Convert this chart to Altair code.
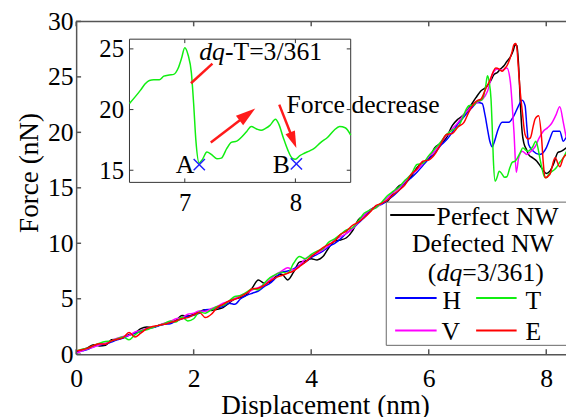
import altair as alt
import pandas as pd

FONT = "Liberation Serif"

# ---------------- data ----------------
X_LOW = [0.0, 0.1, 0.2, 0.3, 0.4, 0.5, 0.6, 0.7, 0.8, 0.9,
         1.0, 1.1, 1.2, 1.3, 1.4, 1.5, 1.6, 1.7, 1.8, 1.9,
         2.0, 2.1, 2.2, 2.3, 2.4, 2.5, 2.6, 2.7, 2.8, 2.9,
         3.0, 3.1, 3.2, 3.3, 3.4, 3.5, 3.6, 3.7, 3.8, 3.9,
         4.0, 4.1, 4.2, 4.3, 4.4, 4.5, 4.6, 4.7, 4.8, 4.9,
         5.0, 5.1, 5.2, 5.3, 5.4, 5.5, 5.6, 5.7, 5.8, 5.9,
         6.0, 6.1, 6.2, 6.3, 6.4, 6.5, 6.6]

PERFECT_LOW = [0.2, 0.35, 0.6, 0.85, 0.75, 0.8, 1.3, 1.35, 1.5, 1.75,
               1.9, 2.3, 2.45, 2.4, 2.6, 2.75, 2.9, 3.05, 3.5, 3.45,
               3.6, 3.85, 4.0, 3.95, 4.05, 4.2, 4.6, 5.0, 5.1, 5.35,
               6.0, 6.7, 6.4, 6.5, 7.0, 7.2, 6.7, 7.4, 8.3, 8.4,
               8.6, 8.5, 8.8, 9.6, 10.2, 10.3, 10.5, 11.1, 12.1, 12.5,
               13.0, 13.3, 13.6, 13.8, 14.6, 15.2, 15.4, 16.0, 16.8, 17.3,
               17.6, 18.6, 19.0, 19.5, 20.6, 21.2, 21.6]
PERFECT_TAIL_X = [6.7, 6.8, 6.89, 6.97, 7.05, 7.11, 7.17, 7.22, 7.28, 7.33,
                  7.39, 7.44, 7.47, 7.5, 7.53, 7.56, 7.59, 7.62, 7.66, 7.70,
                  7.77, 7.84, 7.92, 8.0, 8.06, 8.12, 8.2, 8.26, 8.34]
PERFECT_TAIL_Y = [22.3, 23.1, 23.75, 24.05, 24.6, 25.2, 25.4, 25.7, 26.0, 26.4,
                  26.8, 27.4, 27.9, 27.8, 26.0, 22.5, 20.0, 19.0, 18.5, 18.0,
                  17.7, 17.4, 16.8, 16.3, 16.5, 17.1, 18.2, 18.3, 18.6]

H_LOW = [0.1, 0.3, 0.45, 0.7, 0.85, 0.9, 1.1, 1.3, 1.45, 1.7,
         1.9, 2.05, 2.3, 2.4, 2.55, 2.7, 2.75, 3.0, 3.2, 3.4,
         3.5, 3.7, 4.0, 4.05, 4.2, 4.3, 4.6, 4.5, 5.0, 5.3,
         5.5, 5.7, 6.1, 6.4, 6.9, 7.4, 7.5, 7.7, 8.0, 8.3,
         8.7, 9.0, 9.3, 9.7, 10.0, 10.4, 10.9, 11.3, 11.8, 12.3,
         12.9, 13.3, 13.5, 13.9, 14.3, 14.8, 15.5, 15.9, 16.4, 17.0,
         17.6, 18.1, 18.8, 19.3, 20.0, 20.8, 21.4]
H_TAIL_X = [6.66, 6.75, 6.83, 6.91, 6.96, 7.0, 7.04, 7.08, 7.12, 7.17,
            7.25, 7.36, 7.45, 7.52, 7.59, 7.64, 7.67, 7.70, 7.78, 7.89,
            8.0, 8.06, 8.12, 8.23, 8.29, 8.34]
H_TAIL_Y = [21.8, 22.3, 22.7, 22.6, 21.5, 20.3, 19.2, 18.7, 19.2, 20.1,
            20.9, 20.9, 21.5, 22.3, 22.9, 22.4, 20.5, 18.9, 18.3, 18.0,
            18.6, 19.4, 20.1, 20.1, 19.2, 19.6]

T_LOW = [0.3, 0.45, 0.55, 0.8, 1.0, 1.15, 1.2, 1.4, 1.55, 1.3,
         1.75, 2.1, 2.2, 2.4, 2.6, 2.75, 3.0, 2.9, 3.35, 3.0,
         3.2, 3.8, 3.7, 4.0, 4.3, 4.4, 4.8, 5.2, 5.3, 5.6,
         5.9, 5.8, 6.4, 6.9, 7.2, 7.4, 7.3, 8.2, 8.8, 8.6,
         9.0, 9.3, 9.5, 10.1, 10.4, 10.8, 11.2, 11.4, 12.0, 12.7,
         13.0, 13.2, 13.7, 14.3, 14.7, 15.1, 15.7, 16.2, 17.1, 17.2,
         17.9, 18.5, 19.1, 19.8, 20.2, 20.5, 21.6]
T_TAIL_X = [6.64, 6.68, 6.72, 6.77, 6.81, 6.86, 6.9, 6.94, 6.97, 7.0,
            7.03, 7.06, 7.08, 7.1, 7.13, 7.16, 7.2, 7.24, 7.29, 7.33,
            7.38, 7.42, 7.47, 7.51, 7.56, 7.6, 7.65, 7.69, 7.73, 7.77,
            7.82, 7.85, 7.89, 7.93, 7.97, 8.0, 8.04, 8.08, 8.13, 8.17,
            8.23, 8.29, 8.35, 8.4, 8.45, 8.5]
T_TAIL_Y = [22.1, 22.4, 22.45, 22.45, 22.75, 22.85, 22.9, 23.4, 24.2, 25.1,
            24.5, 23.0, 20.5, 17.5, 15.6, 15.9, 16.5, 16.3, 15.95, 16.0,
            16.8, 17.3, 17.4, 17.7, 18.2, 18.6, 18.4, 18.3, 18.45, 18.7,
            19.2, 18.8, 17.7, 16.7, 16.0, 15.9, 16.2, 16.4, 16.6, 16.8,
            17.3, 17.7, 18.3, 18.6, 18.5, 17.9]

V_LOW = [0.1, 0.3, 0.5, 0.65, 0.85, 1.0, 1.2, 1.45, 1.6, 1.7,
         2.0, 2.15, 2.3, 2.45, 2.6, 2.8, 2.95, 3.2, 3.3, 3.6,
         3.7, 3.9, 3.85, 4.1, 4.3, 4.6, 4.75, 5.0, 5.3, 5.5,
         5.8, 6.0, 6.3, 6.7, 7.2, 7.5, 7.8, 7.6, 8.0, 8.6,
         8.9, 9.1, 9.4, 9.8, 10.3, 10.6, 10.9, 11.3, 11.9, 12.5,
         13.0, 13.2, 13.6, 14.1, 14.6, 15.0, 15.6, 16.2, 16.6, 17.2,
         17.8, 18.3, 19.0, 19.7, 20.3, 20.9, 21.6]
V_TAIL_X = [6.7, 6.83, 6.92, 7.0, 7.08, 7.17, 7.25, 7.33, 7.39, 7.42,
            7.45, 7.49, 7.53, 7.59, 7.67, 7.74, 7.81, 7.88, 7.95, 8.02,
            8.09, 8.16, 8.23, 8.29, 8.34]
V_TAIL_Y = [22.2, 22.7, 23.0, 23.7, 25.2, 25.7, 25.6, 25.8, 24.5, 22.5,
            20.1, 16.4, 17.7, 18.3, 18.0, 18.3, 18.7, 19.5, 20.1, 20.4,
            20.8, 21.5, 22.3, 20.9, 19.5]

E_LOW = [0.3, 0.4, 0.55, 0.8, 0.95, 0.9, 1.2, 1.35, 1.5, 1.95,
         1.55, 1.9, 2.3, 2.5, 2.6, 2.7, 2.85, 3.0, 3.2, 3.3,
         3.55, 3.75, 3.3, 3.6, 4.2, 4.5, 4.8, 4.95, 5.2, 5.5,
         5.9, 5.95, 6.2, 6.6, 6.9, 7.1, 7.3, 7.5, 7.9, 8.3,
         8.8, 9.2, 9.6, 9.9, 10.2, 10.8, 11.1, 11.6, 11.9, 12.3,
         12.8, 13.4, 13.6, 13.9, 14.4, 14.8, 15.3, 16.2, 16.7, 17.4,
         17.5, 18.0, 18.9, 19.8, 19.9, 20.5, 20.9]
E_TAIL_X = [6.68, 6.77, 6.84, 6.89, 6.96, 7.05, 7.1, 7.14, 7.2, 7.25,
            7.3, 7.33, 7.38, 7.42, 7.45, 7.48, 7.5, 7.53, 7.56, 7.59,
            7.64, 7.69, 7.73, 7.78, 7.81, 7.87, 7.92, 7.95, 7.98, 8.06,
            8.15, 8.23, 8.29, 8.34]
E_TAIL_Y = [21.8, 22.6, 22.9, 23.0, 23.8, 24.8, 25.5, 25.8, 25.7, 25.5,
            25.8, 26.0, 26.6, 27.3, 27.9, 28.0, 27.6, 25.5, 23.5, 22.0,
            19.8, 19.4, 19.5, 20.6, 21.2, 21.5, 19.5, 17.2, 15.9, 16.2,
            17.7, 16.9, 17.7, 18.0]

SERIES = ["Perfect NW", "H", "V", "T", "E"]
COLORS = ["#000000", "#0000ff", "#ff00ff", "#11ee11", "#ff0000"]

MAIN_XTICKS = [0, 2, 4, 6, 8]
MAIN_YTICKS = [0, 5, 10, 15, 20, 25, 30]
INSET_XTICKS = [7, 8]
INSET_YTICKS = [15, 20, 25]

# inset annotations (in inset data coordinates)
MARK_X = [7.131, 8.009]
MARK_Y = [15.47, 15.53]
MARK_LABEL = ["A", "B"]
MARK_LABEL_X = [7.087, 7.949]
MARK_LABEL_Y = [14.76, 14.76]

ARROW_ID = ["a1", "a1", "a2", "a2", "dq", "dq"]
ARROW_X = [7.235, 7.566, 7.854, 7.981, 7.25, 7.056]
ARROW_Y = [17.29, 19.59, 20.41, 17.47, 23.79, 22.17]
HEAD_X = [7.566, 7.981]
HEAD_Y = [19.59, 17.47]
HEAD_ANGLE = [52.6, 158.5]
HEAD_SIZE = [400, 289]

# ---------------- build tables ----------------
series_parts = [
    ("Perfect NW", PERFECT_LOW, PERFECT_TAIL_X, PERFECT_TAIL_Y),
    ("H", H_LOW, H_TAIL_X, H_TAIL_Y),
    ("V", V_LOW, V_TAIL_X, V_TAIL_Y),
    ("T", T_LOW, T_TAIL_X, T_TAIL_Y),
    ("E", E_LOW, E_TAIL_X, E_TAIL_Y),
]
rows = []
for name, low, tx, ty in series_parts:
    for xv, yv in zip(X_LOW + tx, low + ty):
        rows.append({"series": name, "x": xv, "y": yv})
df = pd.DataFrame(rows)
df_t_inset = df[(df.series == "T") & (df.x >= 6.5)]

dummy = pd.DataFrame({"d": [0]})

# ---------------- main plot ----------------
W, H = 496, 337
xs_main = alt.Scale(domain=[0, 8.336], nice=False, zero=False)
ys_main = alt.Scale(domain=[0, 30], nice=False, zero=False)

x_axis_main = alt.Axis(values=MAIN_XTICKS, title="Displacement (nm)", ticks=False,
                       labelFont=FONT, labelFontSize=26, labelColor="black",
                       labelPadding=12, labelFlush=False, labelOverlap=False,
                       domainColor="#555555", domainWidth=1.5, grid=False,
                       titleFont=FONT, titleFontSize=27.5, titleFontWeight="normal",
                       titleColor="black", titleX=252, titleY=60,
                       titleAlign="center", titleBaseline="alphabetic")
y_axis_main = alt.Axis(values=MAIN_YTICKS, title="Force (nN)", ticks=False,
                       labelFont=FONT, labelFontSize=26, labelColor="black",
                       labelPadding=3, labelFlush=False, labelOverlap=False,
                       domainColor="#555555", domainWidth=1.5, grid=False,
                       titleFont=FONT, titleFontSize=27.5, titleFontWeight="normal",
                       titleColor="black", titleX=-39, titleY=153, titleAngle=270,
                       titleAlign="center", titleBaseline="alphabetic")

lines = alt.Chart(df).mark_line(clip=True, interpolate="monotone", strokeWidth=1.5).encode(
    x=alt.X("x:Q", scale=xs_main, axis=x_axis_main),
    y=alt.Y("y:Q", scale=ys_main, axis=y_axis_main),
    color=alt.Color("series:N", scale=alt.Scale(domain=SERIES, range=COLORS), legend=None),
)

df_xt = pd.DataFrame({"x": MAIN_XTICKS})
df_yt = pd.DataFrame({"y": MAIN_YTICKS})
xt_bottom = alt.Chart(df_xt).mark_rule(color="#555555", strokeWidth=1.5).encode(
    x=alt.X("x:Q", scale=xs_main, axis=x_axis_main), y=alt.value(H), y2=alt.value(H - 5))
xt_top = alt.Chart(df_xt).mark_rule(color="#555555", strokeWidth=1.5).encode(
    x=alt.X("x:Q", scale=xs_main, axis=x_axis_main), y=alt.value(0), y2=alt.value(5))
yt_left = alt.Chart(df_yt).mark_rule(color="#555555", strokeWidth=1.5).encode(
    y=alt.Y("y:Q", scale=ys_main, axis=y_axis_main), x=alt.value(0), x2=alt.value(5))
top_border = alt.Chart(dummy).mark_rule(color="#555555", strokeWidth=1.5).encode(
    x=alt.value(0), x2=alt.value(W + 5), y=alt.value(0))

# legend (pixel positions relative to the plot area)
legend_box = alt.Chart(dummy).mark_rect(fill="white", stroke="#666666", strokeWidth=1).encode(
    x=alt.value(314), x2=alt.value(505), y=alt.value(183), y2=alt.value(328))
LEG_LINES = [("#000000", 318, 363, 196), ("#0000ff", 323, 365, 280),
             ("#11ee11", 405, 446, 280), ("#ff00ff", 323, 365, 313),
             ("#ff0000", 405, 446, 313)]
LEG_TEXTS = [(365, 206, "Perfect NW", "normal"), (340, 233, "Defected NW", "normal"),
             (356, 263, "(", "normal"), (365, 263, "dq", "italic"),
             (391, 263, "=3/361)", "normal"), (371, 291, "H", "normal"),
             (455, 291, "T", "normal"), (370, 323, "V", "normal"),
             (455, 323, "E", "normal")]
legend_layers = [legend_box]
for col, x1, x2, yy in LEG_LINES:
    legend_layers.append(alt.Chart(dummy).mark_rule(color=col, strokeWidth=2).encode(
        x=alt.value(x1), x2=alt.value(x2), y=alt.value(yy)))
for xx, yy, txt, style in LEG_TEXTS:
    legend_layers.append(alt.Chart(dummy).mark_text(
        text=txt, font=FONT, fontSize=26, fontStyle=style, align="left",
        baseline="alphabetic", color="black").encode(x=alt.value(xx), y=alt.value(yy)))

main = alt.layer(lines, xt_bottom, xt_top, yt_left, top_border, *legend_layers)

# ---------------- inset ----------------
xs_in = alt.Scale(domain=[6.5, 8.5], range=[54, 278], nice=False, zero=False)
ys_in = alt.Scale(domain=[14, 25.8], range=[163, 18], nice=False, zero=False)

x_axis_in = alt.Axis(orient="bottom", offset=-(H - 163), values=INSET_XTICKS, title=None,
                     ticks=False, domain=False, grid=False, labelFont=FONT,
                     labelFontSize=25, labelColor="black", labelPadding=8,
                     labelFlush=False, labelOverlap=False)
y_axis_in = alt.Axis(orient="left", offset=-54, values=INSET_YTICKS, title=None,
                     ticks=False, domain=False, grid=False, labelFont=FONT,
                     labelFontSize=25, labelColor="black", labelPadding=6,
                     labelFlush=False, labelOverlap=False)

XI = dict(scale=xs_in, axis=x_axis_in)
YI = dict(scale=ys_in, axis=y_axis_in)

df_box = pd.DataFrame({"x": [6.5], "x1": [8.5], "y": [14.0], "y1": [25.8]})
inset_box = alt.Chart(df_box).mark_rect(fill="white", stroke="#333333", strokeWidth=1).encode(
    x=alt.X("x:Q", **XI), x2="x1:Q", y=alt.Y("y:Q", **YI), y2="y1:Q")

inset_line = alt.Chart(df_t_inset).mark_line(interpolate="monotone", strokeWidth=1.5,
                                             color="#11ee11").encode(
    x=alt.X("x:Q", **XI), y=alt.Y("y:Q", **YI))

df_ixt = pd.DataFrame({"x": INSET_XTICKS})
df_iyt = pd.DataFrame({"y": INSET_YTICKS})
ixt_b = alt.Chart(df_ixt).mark_rule(color="#333333", strokeWidth=1).encode(
    x=alt.X("x:Q", **XI), y=alt.value(163), y2=alt.value(159))
ixt_t = alt.Chart(df_ixt).mark_rule(color="#333333", strokeWidth=1).encode(
    x=alt.X("x:Q", **XI), y=alt.value(18), y2=alt.value(22))
iyt_l = alt.Chart(df_iyt).mark_rule(color="#333333", strokeWidth=1).encode(
    y=alt.Y("y:Q", **YI), x=alt.value(54), x2=alt.value(58))
iyt_r = alt.Chart(df_iyt).mark_rule(color="#333333", strokeWidth=1).encode(
    y=alt.Y("y:Q", **YI), x=alt.value(278), x2=alt.value(274))

df_arrows = pd.DataFrame({"id": ARROW_ID, "x": ARROW_X, "y": ARROW_Y})
shafts = alt.Chart(df_arrows).mark_line(color="#ff1a1a", strokeWidth=2.5).encode(
    x=alt.X("x:Q", **XI), y=alt.Y("y:Q", **YI), detail="id:N")
df_heads = pd.DataFrame({"x": HEAD_X, "y": HEAD_Y, "angle": HEAD_ANGLE, "size": HEAD_SIZE})
heads = alt.Chart(df_heads).mark_point(shape="M0,-1L0.6,1L-0.6,1Z", filled=True,
                                       color="#ff1a1a", opacity=1).encode(
    x=alt.X("x:Q", **XI), y=alt.Y("y:Q", **YI),
    angle=alt.Angle("angle:Q", scale=None), size=alt.Size("size:Q", scale=None))

df_marks = pd.DataFrame({"x": MARK_X, "y": MARK_Y})
crosses = alt.Chart(df_marks).mark_point(shape="M-1,-1L1,1M-1,1L1,-1", filled=False,
                                         color="#2222ff", strokeWidth=1.5, size=130,
                                         opacity=1).encode(
    x=alt.X("x:Q", **XI), y=alt.Y("y:Q", **YI))

df_mlab = pd.DataFrame({"x": MARK_LABEL_X, "y": MARK_LABEL_Y, "t": MARK_LABEL})
mark_labels = alt.Chart(df_mlab).mark_text(font=FONT, fontSize=26, align="right",
                                           baseline="alphabetic", color="black").encode(
    x=alt.X("x:Q", **XI), y=alt.Y("y:Q", **YI), text="t:N")

df_dq = pd.DataFrame({"x": [7.131], "y": [24.07], "t": ["dq"]})
dq_text = alt.Chart(df_dq).mark_text(font=FONT, fontSize=26, fontStyle="italic",
                                     align="left", baseline="alphabetic",
                                     color="black").encode(
    x=alt.X("x:Q", **XI), y=alt.Y("y:Q", **YI), text="t:N")
df_notes = pd.DataFrame({"x": [7.363, 7.92], "y": [24.07, 19.72],
                         "t": ["-T=3/361", "Force decrease"]})
notes = alt.Chart(df_notes).mark_text(font=FONT, fontSize=26, align="left",
                                      baseline="alphabetic", color="black").encode(
    x=alt.X("x:Q", **XI), y=alt.Y("y:Q", **YI), text="t:N")

inset = alt.layer(inset_box, ixt_b, ixt_t, iyt_l, iyt_r, inset_line, shafts, heads,
                  crosses, mark_labels, dq_text, notes)

chart = alt.layer(main, inset).resolve_scale(
    x="independent", y="independent"
).properties(
    width=W, height=H,
    padding={"left": 69, "top": 11, "right": 0, "bottom": 61},
    autosize=alt.AutoSizeParams(type="none"),
    background="white",
).configure_view(stroke="transparent").configure_axis(grid=False)

chart.save("out.html", embed_options={"renderer": "svg", "actions": False})
